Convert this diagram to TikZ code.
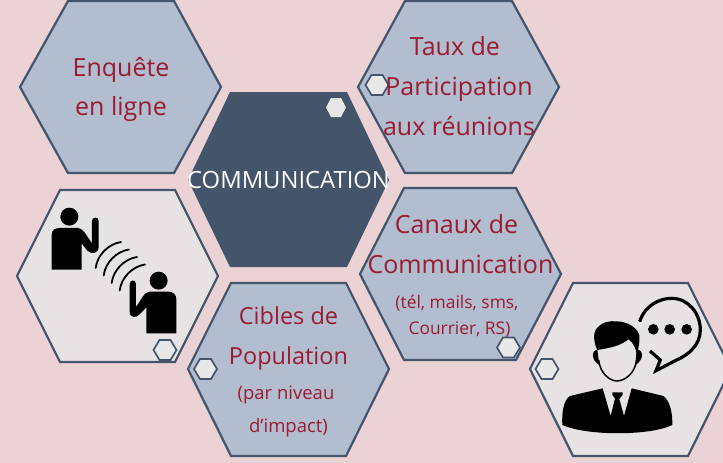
\documentclass[tikz,border=0pt]{standalone}
\usepackage{fontspec}
\setmainfont{Open Sans}
\definecolor{bgc}{HTML}{EBD2D4}
\definecolor{bluehex}{HTML}{B2BDD0}
\definecolor{darkhex}{HTML}{44546A}
\definecolor{lighthex}{HTML}{E7E3E4}
\definecolor{smallhex}{HTML}{E8E8E8}
\definecolor{redtxt}{HTML}{9B1B30}
\tikzset{
  hexline/.style={draw=darkhex,line width=2.2pt,line join=miter},
  bluefill/.style={hexline,fill=bluehex},
  lightfill/.style={hexline,fill=lighthex},
  smalln/.style={fill=smallhex,draw=darkhex,line width=1.7pt},
  bigtxt/.style={anchor=base,text=redtxt,font=\fontsize{25}{25}\selectfont,inner sep=0pt},
  midtxt/.style={anchor=base,text=redtxt,font=\fontsize{23.5}{24}\selectfont,inner sep=0pt},
  smalltxt/.style={anchor=base,text=redtxt,font=\fontsize{17.4}{18}\selectfont,inner sep=0pt},
  subtxt/.style={anchor=base,text=redtxt,font=\fontsize{18.5}{19}\selectfont,inner sep=0pt},
  ink/.style={fill=black,draw=none},
  arcline/.style={draw=black,line width=1.8pt,line cap=round}
}
\newcommand{\smallhexagon}[2]{\draw[smalln] (#1-11.5,#2) -- (#1-5.5,#2-10) -- (#1+5.5,#2-10) -- (#1+11.5,#2) -- (#1+5.5,#2+10) -- (#1-5.5,#2+10) -- cycle;}
\begin{document}
\begin{tikzpicture}[x=1pt,y=-1pt]
\useasboundingbox (0,0) rectangle (723,463);
\fill[bgc] (0,0) rectangle (723,463);
\begin{scope}
\clip (0,0) rectangle (723,463);
% large hexagons
\draw[bluefill] (20,87) -- (68,1) -- (174,1) -- (221,87) -- (174,173) -- (68,173) -- cycle;
\draw[bluefill] (358,87) -- (405,1) -- (512,1) -- (559,87) -- (512,173) -- (405,173) -- cycle;
\draw[bluefill] (360,274) -- (404,188) -- (516,188) -- (561,274) -- (516,360) -- (404,360) -- cycle;
\draw[bluefill] (188,369) -- (231,283) -- (346,283) -- (389,369) -- (346,456) -- (231,456) -- cycle;
\draw[lightfill] (17,276) -- (60,190) -- (175,190) -- (218,276) -- (175,362) -- (60,362) -- cycle;
\draw[lightfill] (530,369) -- (573,283) -- (688,283) -- (731,369) -- (688,456) -- (573,456) -- cycle;
\fill[darkhex] (188,180) -- (230,92) -- (347,92) -- (389,180) -- (347,267) -- (230,267) -- cycle;
\end{scope}
% small hexagons
\smallhexagon{165}{350}
\smallhexagon{377}{85}
\smallhexagon{508.5}{347.5}
\smallhexagon{205.5}{369}
\smallhexagon{547}{369}
\fill[smallhex] (326,107.5) -- (331,98) -- (341,98) -- (346,107.5) -- (341,117) -- (331,117) -- cycle;
% person icons (first)
\begin{scope}[shift={(0,180)},x=0.3333pt,y=-0.3333pt]
\fill[ink] (208,110) circle (27);
\fill[ink] (155,269) -- (155,165) .. controls (155,150) and (165,144) .. (180,144) -- (235,144) .. controls (250,146) and (258,165) .. (276,190) -- (276,122) .. controls (276,110) and (296,110) .. (296,122) -- (296,200) .. controls (296,220) and (275,225) .. (262,212) -- (245,190) -- (245,269) -- cycle;
\foreach \r in {0,1,2,3}{
  \draw[arcline] ({287+24*\r},{264+22.5*\r}) .. controls ({292+24*\r},{225+22.5*\r}) and ({325+24*\r},{192+22.5*\r}) .. ({363+24*\r},{186+22.5*\r});
}
\fill[ink] (476,302) circle (27);
\fill[ink] (529,460) -- (529,357) .. controls (529,343) and (518,335) .. (505,335) -- (448,335) .. controls (430,337) and (425,360) .. (408,380) -- (408,312) .. controls (408,298) and (389,298) .. (389,312) -- (389,395) .. controls (389,415) and (410,415) .. (420,402) -- (439,382) -- (439,460) -- cycle;
\end{scope}
% person icons (second)
\begin{scope}[shift={(520,270)},x=0.3333pt,y=-0.3333pt]
\draw[black,line width=3.2pt] (359,155) .. controls (375,105) and (420,85) .. (455,85) .. controls (505,85) and (541,130) .. (541,180) .. controls (541,225) and (505,255) .. (470,270) -- (408,302) -- (421,270) -- (390,243);
\foreach \d in {400,449,500}{\fill[ink] (\d,178) circle (16);}
% hair and face
\fill[ink] (232,240) .. controls (220,215) and (220,190) .. (228,178) .. controls (245,155) and (270,152) .. (290,154) .. controls (320,155) and (350,170) .. (358,195) .. controls (360,215) and (355,240) .. (350,250) .. controls (345,225) and (335,215) .. (325,208) .. controls (300,230) and (260,235) .. (232,240) -- cycle;
\fill[ink] (232,238) .. controls (215,240) and (212,270) .. (238,285) -- cycle;
\fill[ink] (350,238) .. controls (372,240) and (372,270) .. (346,285) -- cycle;
\draw[black,line width=1.5pt] (236,270) .. controls (240,310) and (270,333) .. (290,333) .. controls (315,333) and (345,310) .. (350,270);
% suit
\fill[ink] (127,465) .. controls (125,430) and (130,390) .. (150,378) -- (248,355) -- (272,438) -- (285,385) -- (277,375) -- (277,367) -- (308,367) -- (308,375) -- (298,387) -- (312,438) -- (335,355) -- (430,378) .. controls (450,392) and (458,430) .. (457,465) .. controls (390,498) and (200,498) .. (127,465) -- cycle;
\end{scope}
% labels
\node[bigtxt] (enqa) at (121,76) {Enquête};
\node[bigtxt] (enqb) at (121,115) {en ligne};
\node[bigtxt] (tauxa) at (455,55) {Taux de};
\node[bigtxt] (tauxb) at (459,95) {Participation};
\node[bigtxt] (tauxc) at (459,135) {aux réunions};
\node[anchor=base,text=white,font=\fontsize{23.8}{24}\selectfont,inner sep=0pt] (comm) at (288.5,188) {COMMUNICATION};
\node[bigtxt] (cana) at (456.5,233) {Canaux de};
\node[bigtxt] (canb) at (460.5,273) {Communication};
\node[smalltxt] (canc) at (457,308) {(tél, mails, sms,};
\node[smalltxt] (cand) at (459.5,334) {Courrier, RS)};
\node[midtxt] (ciba) at (288.5,324) {Cibles de};
\node[midtxt] (cibb) at (288.5,364) {Population};
\node[subtxt] (cibc) at (286,399) {(par niveau};
\node[subtxt] (cibd) at (288.5,432) {d’impact)};
\end{tikzpicture}
\end{document}
